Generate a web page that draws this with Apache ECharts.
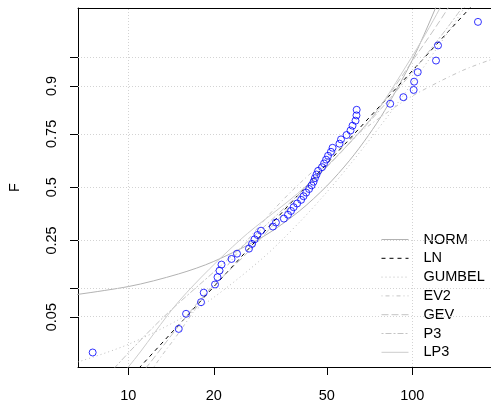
<!DOCTYPE html>
<html><head><meta charset="utf-8">
<script src="https://cdn.jsdelivr.net/npm/echarts@6/dist/echarts.min.js"></script>
<style>html,body{margin:0;padding:0;background:#fff}#c{width:491px;height:409px}</style>
</head><body><div id="c"></div>
<script>
// observed sample (sorted) and Weibull plotting positions
const obsX = [7.49, 15.05, 15.97, 18.03, 18.43, 20.2, 20.61, 20.95, 21.29, 23.09,
  24.14, 26.6, 27.27, 27.83, 28.5, 29.33, 32.3, 33.1, 35.3, 36.5,
  37.4, 38.2, 39.3, 40.6, 41.4, 42.3, 43.3, 44.2, 44.9, 45.4,
  46.0, 46.6, 48.1, 48.9, 49.7, 50.5, 51.7, 52.4, 55.4, 56.1,
  58.7, 60.6, 61.6, 63.1, 63.6, 63.7, 83.6, 93.0, 101.1, 101.5,
  104.5, 121.2, 123.2, 170.3];
const obsF = [0.0182,0.0364,0.0545,0.0727,0.0909,0.1091,0.1273,0.1455,0.1636,0.1818,
  0.2,0.2182,0.2364,0.2545,0.2727,0.2909,0.3091,0.3273,0.3455,0.3636,
  0.3818,0.4,0.4182,0.4364,0.4545,0.4727,0.4909,0.5091,0.5273,0.5455,
  0.5636,0.5818,0.6,0.6182,0.6364,0.6545,0.6727,0.6909,0.7091,0.7273,
  0.7455,0.7636,0.7818,0.8,0.8182,0.8364,0.8545,0.8727,0.8909,0.9091,
  0.9273,0.9455,0.9636,0.9818];

// fitted distribution curves: [x, F]
const normX = [5,10,15,20,30,40,50,60,70,80,100,120,130];
const normF = [0.0782,0.1042,0.1359,0.1737,0.2673,0.3811,0.5063,0.6310,0.7431,0.8343,0.9461,0.9876,0.99483];
const lnX = [8,200];
const lnF = [0.00243,0.99599];
const gumX = [5,6.67,10,15,20,30,40,50,60,80,100,130,160];
const gumF = [0.01005,0.01355,0.02333,0.04651,0.08152,0.1879,0.3279,0.4751,0.6087,0.8018,0.9064,0.97124,0.99138];
const ev2X = [10,12,15,20,30,40,60,80,100,150,200];
const ev2F = [0.0012,0.0095,0.032,0.112,0.3357,0.5172,0.7230,0.8221,0.8759,0.930,0.950];
const gevX = [9.35,11.61,17.89,26.83,41.9,70.96,106.4,133.6,147.2];
const gevF = [0.00353,0.01142,0.0767,0.2133,0.486,0.8026,0.9588,0.9883,0.99475];
const p3X = [6.9,8.05,9.0,13.3,21.1,30.1,42.3,58.1,77.9,102.3,131.6,151.8];
const p3F = [0.00135,0.00621,0.01142,0.05,0.1587,0.3085,0.5,0.6915,0.8413,0.9332,0.9772,0.9893];
const lp3X = [7.63,10,15.21,24.74,41.9,70.96,98.1,125.2,135.7];
const lp3F = [0.00353,0.01142,0.0767,0.2521,0.501,0.8026,0.9463,0.9883,0.99475];

const legendNames = ['NORM','LN','GUMBEL','EV2','GEV','P3','LP3'];
const probTicks = [0.05,0.1,0.25,0.5,0.75,0.9,0.95];
const probLabelVals = [0.05,0.25,0.5,0.75,0.9];
const probLabelText = ['0.05','0.25','0.5','0.75','0.9'];
const xTickVals = [10,20,50,100];
const xGridVals = [10,100];
const xRange = [6.65, 189.3];
const fRange = [0.01142, 0.98834];

function qnorm(p){
  const a=[-3.969683028665376e+01,2.209460984245205e+02,-2.759285104469687e+02,1.383577518672690e+02,-3.066479806614716e+01,2.506628277459239e+00];
  const b=[-5.447609879822406e+01,1.615858368580409e+02,-1.556989798598866e+02,6.680131188771972e+01,-1.328068155288572e+01];
  const c=[-7.784894002430293e-03,-3.223964580411365e-01,-2.400758277161838e+00,-2.549671064284157e+00,4.374664141464968e+00,2.938163982698783e+00];
  const d=[7.784695709041462e-03,3.224671290700398e-01,2.445134137142996e+00,3.754408661907416e+00];
  const pl=0.02425, ph=1-pl; let q,r;
  if(p<pl){q=Math.sqrt(-2*Math.log(p));return (((((c[0]*q+c[1])*q+c[2])*q+c[3])*q+c[4])*q+c[5])/((((d[0]*q+d[1])*q+d[2])*q+d[3])*q+1);}
  if(p<=ph){q=p-0.5;r=q*q;return (((((a[0]*r+a[1])*r+a[2])*r+a[3])*r+a[4])*r+a[5])*q/(((((b[0]*r+b[1])*r+b[2])*r+b[3])*r+b[4])*r+1);}
  q=Math.sqrt(-2*Math.log(1-p));return -(((((c[0]*q+c[1])*q+c[2])*q+c[3])*q+c[4])*q+c[5])/((((d[0]*q+d[1])*q+d[2])*q+d[3])*q+1);
}
const lg = Math.log10;
const pairs = (xs, fs) => xs.map((x,i)=>[lg(x), qnorm(fs[i])]);

const FONT = 'Liberation Sans, Arial, sans-serif';
const FS = 14.5;

const curveDefs = [
  {name:'NORM', xs:normX, fs:normF, color:'#b2b2b2', type:'solid'},
  {name:'LN', xs:lnX, fs:lnF, color:'#000000', type:[4,4]},
  {name:'GUMBEL', xs:gumX, fs:gumF, color:'#bdbdbd', type:[1,3]},
  {name:'EV2', xs:ev2X, fs:ev2F, color:'#c4c4c4', type:[1,3,4,3]},
  {name:'GEV', xs:gevX, fs:gevF, color:'#c4c4c4', type:[7,3]},
  {name:'P3', xs:p3X, fs:p3F, color:'#c4c4c4', type:[2,2,6,2]},
  {name:'LP3', xs:lp3X, fs:lp3F, color:'#cccccc', type:'solid'}
];

const gridLine = {
  type:'scatter', data:[], silent:true, z:1,
  markLine:{
    silent:true, symbol:['none','none'], animation:false,
    label:{show:false},
    lineStyle:{color:'#d3d3d3', type:[1,2], width:1},
    data: probTicks.map(p=>({yAxis: qnorm(p)})).concat(xGridVals.map(v=>({xAxis: lg(v)})))
  }
};

const series = [gridLine].concat(curveDefs.map(c=>({
  name:c.name, type:'line', data:pairs(c.xs,c.fs), symbol:'none', smooth: c.xs.length>2 ? 0.3 : false,
  lineStyle:{color:c.color, width:1, type:c.type}, itemStyle:{color:c.color},
  z:3, animation:false, silent:true
}))).concat([{
  type:'scatter', data: obsX.map((x,i)=>[lg(x), qnorm(obsF[i])]),
  symbol:'circle', symbolSize:7,
  itemStyle:{color:'rgba(0,0,0,0)', borderColor:'#0000ff', borderWidth:1},
  z:5, animation:false, silent:true
}]);

const chart = echarts.init(document.getElementById('c'), null, {renderer:'canvas'});
chart.setOption({
  animation:false,
  backgroundColor:'#ffffff',
  grid:{left:78, top:8, right:0, bottom:42, outerBoundsMode:'none', containLabel:false},
  xAxis:[{
    type:'value', min:lg(xRange[0]), max:lg(xRange[1]), position:'bottom',
    axisLine:{show:true, onZero:false, lineStyle:{color:'#000', width:1}},
    axisTick:{show:true, inside:false, length:8, lineStyle:{color:'#000'}, customValues: xTickVals.map(lg)},
    axisLabel:{show:true, margin:21, color:'#000', fontSize:FS, fontFamily:FONT,
      customValues: xTickVals.map(lg), formatter:(v)=>String(Math.round(Math.pow(10,v)))},
    splitLine:{show:false}
  },{
    type:'value', position:'top', min:lg(xRange[0]), max:lg(xRange[1]),
    axisLine:{show:true, onZero:false, lineStyle:{color:'#000', width:1}},
    axisTick:{show:false}, axisLabel:{show:false}, splitLine:{show:false}
  }],
  yAxis:{
    type:'value', min:qnorm(fRange[0]), max:qnorm(fRange[1]),
    name:'F', nameLocation:'middle', nameGap:56, nameRotate:90,
    nameTextStyle:{color:'#000', fontSize:FS, fontFamily:FONT},
    axisLine:{show:true, onZero:false, lineStyle:{color:'#000', width:1}},
    axisTick:{show:true, inside:false, length:8, lineStyle:{color:'#000'}, customValues: probTicks.map(qnorm)},
    axisLabel:{show:true, rotate:90, margin:19, color:'#000', fontSize:FS, fontFamily:FONT,
      customValues: probLabelVals.map(qnorm),
      formatter:(v)=>{let best=0,bd=1e9;probLabelVals.forEach((p,i)=>{const d=Math.abs(qnorm(p)-v);if(d<bd){bd=d;best=i;}});return probLabelText[best];}},
    splitLine:{show:false}
  },
  legend:{
    data:legendNames, orient:'vertical', left:381, top:232, padding:0,
    itemWidth:27, itemHeight:14, itemGap:3.8,
    itemStyle:{color:'rgba(0,0,0,0)', borderWidth:0, opacity:0},
    lineStyle:{width:1},
    textStyle:{color:'#000', fontSize:FS, fontFamily:FONT, padding:[0,0,0,10], lineHeight:14},
    selectedMode:false
  },
  series: series
});
</script></body></html>
